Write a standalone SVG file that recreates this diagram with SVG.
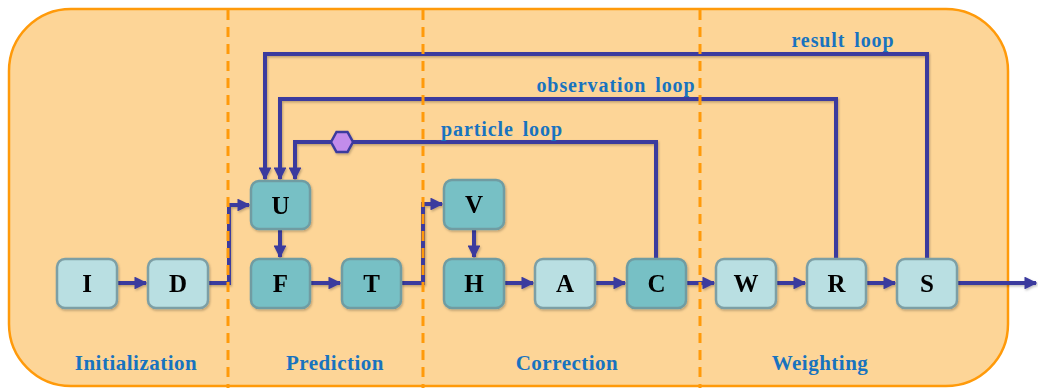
<svg xmlns="http://www.w3.org/2000/svg" width="1038" height="388" viewBox="0 0 1038 388">
<style>
.nl{fill:#B9DFE2;stroke:#7D9FA5;stroke-width:2.5}
.nd{fill:#77C0C5;stroke:#6F9CA2;stroke-width:2.5}
.nt{font-family:"Liberation Serif",serif;font-weight:bold;font-size:25px;fill:#000;text-anchor:middle}
.c{fill:none;stroke:#3B3A9E;stroke-width:4;stroke-linejoin:miter}
.lbl{font-family:"Liberation Serif",serif;font-weight:bold;font-size:20px;letter-spacing:0.9px;word-spacing:3px;fill:#1873BF;text-anchor:middle}
.sec{font-family:"Liberation Serif",serif;font-weight:bold;font-size:21px;letter-spacing:0.5px;fill:#1873BF;text-anchor:middle}
.dash{stroke:#FF9A0A;stroke-width:3;stroke-dasharray:10,7;fill:none}
</style>
<defs>
<marker id="ah" viewBox="0 0 10 10" refX="9" refY="5" markerWidth="3.2" markerHeight="3.2" orient="auto" markerUnits="strokeWidth">
<path d="M0,0 L10,5 L0,10 z" fill="#3B3A9E"/>
</marker>
<filter id="sh" x="-10%" y="-10%" width="130%" height="130%">
<feDropShadow dx="1" dy="1.5" stdDeviation="1" flood-color="#000" flood-opacity="0.25"/>
</filter>
</defs>
<rect x="9" y="9" width="999" height="377" rx="62" ry="62" fill="#FDD597" stroke="#FF9A0A" stroke-width="2.5"/>
<g id="sections">
<text class="sec" x="136" y="370">Initialization</text>
<text class="sec" x="335" y="370">Prediction</text>
<text class="sec" x="567" y="370">Correction</text>
<text class="sec" x="820" y="370">Weighting</text>
</g>
<g id="connectors" filter="url(#sh)">
<path class="c" d="M117,283 L146,283" marker-end="url(#ah)"/>
<path class="c" d="M208,283 L229,283 L229,205 L249,205" marker-end="url(#ah)"/>
<path class="c" d="M280,229 L280,257" marker-end="url(#ah)"/>
<path class="c" d="M310,283 L340,283" marker-end="url(#ah)"/>
<path class="c" d="M401,283 L423,283 L423,204 L442,204" marker-end="url(#ah)"/>
<path class="c" d="M474,229 L474,257" marker-end="url(#ah)"/>
<path class="c" d="M504,283 L533,283" marker-end="url(#ah)"/>
<path class="c" d="M595,283 L625,283" marker-end="url(#ah)"/>
<path class="c" d="M686,283 L714,283" marker-end="url(#ah)"/>
<path class="c" d="M776,283 L805,283" marker-end="url(#ah)"/>
<path class="c" d="M866,283 L895,283" marker-end="url(#ah)"/>
<path class="c" d="M957,283 L1036,283" marker-end="url(#ah)"/>
<path class="c" d="M927,259 L927,54 L265,54 L265,179" marker-end="url(#ah)"/>
<path class="c" d="M836,259 L836,99 L280,99 L280,179" marker-end="url(#ah)"/>
<path class="c" d="M656,259 L656,142 L295,142 L295,179" marker-end="url(#ah)"/>
<polygon points="331,142 336.5,132 347.5,132 353,142 347.5,152 336.5,152" fill="#C28CEB" stroke="#3B3A9E" stroke-width="2.5"/>
</g>
<g id="dividers">
<line class="dash" x1="228" y1="10" x2="228" y2="388"/>
<line class="dash" x1="423" y1="10" x2="423" y2="388"/>
<line class="dash" x1="700" y1="10" x2="700" y2="388"/>
</g>
<g id="loop-labels">
<text class="lbl" x="843" y="47">result loop</text>
<text class="lbl" x="616" y="92">observation loop</text>
<text class="lbl" x="502" y="136">particle loop</text>
</g>
<g id="node-I" filter="url(#sh)"><rect class="nl" x="57" y="259" width="60" height="49" rx="8"/><text class="nt" x="87" y="292">I</text></g>
<g id="node-D" filter="url(#sh)"><rect class="nl" x="148" y="259" width="60" height="49" rx="8"/><text class="nt" x="178" y="292">D</text></g>
<g id="node-U" filter="url(#sh)"><rect class="nd" x="251" y="181" width="59" height="48" rx="8"/><text class="nt" x="280.5" y="214">U</text></g>
<g id="node-F" filter="url(#sh)"><rect class="nd" x="251" y="259" width="59" height="49" rx="8"/><text class="nt" x="280.5" y="292">F</text></g>
<g id="node-T" filter="url(#sh)"><rect class="nd" x="342" y="259" width="59" height="49" rx="8"/><text class="nt" x="371.5" y="292">T</text></g>
<g id="node-V" filter="url(#sh)"><rect class="nd" x="444" y="180" width="60" height="49" rx="8"/><text class="nt" x="474" y="213">V</text></g>
<g id="node-H" filter="url(#sh)"><rect class="nd" x="444" y="259" width="60" height="49" rx="8"/><text class="nt" x="474" y="292">H</text></g>
<g id="node-A" filter="url(#sh)"><rect class="nl" x="535" y="259" width="60" height="49" rx="8"/><text class="nt" x="565" y="292">A</text></g>
<g id="node-C" filter="url(#sh)"><rect class="nd" x="627" y="259" width="59" height="49" rx="8"/><text class="nt" x="656.5" y="292">C</text></g>
<g id="node-W" filter="url(#sh)"><rect class="nl" x="716" y="259" width="60" height="49" rx="8"/><text class="nt" x="746" y="292">W</text></g>
<g id="node-R" filter="url(#sh)"><rect class="nl" x="807" y="259" width="59" height="49" rx="8"/><text class="nt" x="836.5" y="292">R</text></g>
<g id="node-S" filter="url(#sh)"><rect class="nl" x="897" y="259" width="60" height="49" rx="8"/><text class="nt" x="927" y="292">S</text></g>
</svg>
